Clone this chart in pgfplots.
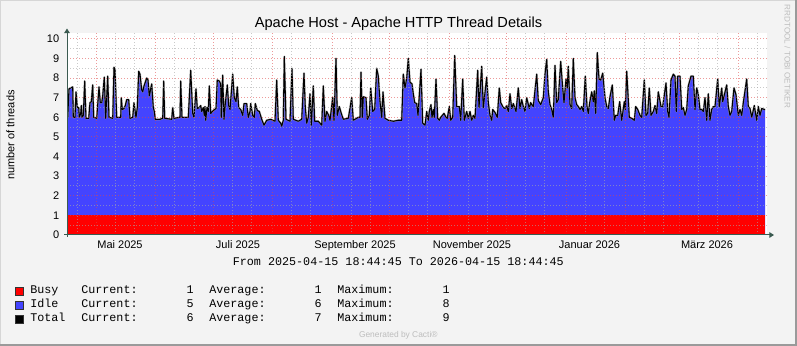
\documentclass[border=0pt]{standalone}
\usepackage{fontspec}
\setmainfont{Liberation Sans}
\newfontfamily\monofont{Liberation Mono}
\usepackage{pgfplots}
\pgfplotsset{compat=1.18}
\usepackage{pgfplotstable}
\usetikzlibrary{arrows.meta}
\definecolor{bg}{HTML}{F3F3F3}
\definecolor{shadea}{HTML}{D6D6D6}
\definecolor{shadeb}{HTML}{9A9A9A}
\definecolor{busy}{HTML}{FF0000}
\definecolor{idle}{HTML}{4444FF}
\definecolor{axiscol}{HTML}{3A5A50}
\definecolor{mgrid}{HTML}{E04848}
\definecolor{mingrid}{HTML}{A8A8A8}
\definecolor{faint}{HTML}{BDBDBD}
\pgfplotstableread{
x y
67 7.1
67.7 6.0
69 7.45
70.7 7.5
72.7 7.55
73.3 6.0
75 6.0
76 7.3
77.3 6.5
78.7 6.5
79.3 6.0
80.7 6.2
81.3 6.6
82 6.0
83.3 6.1
84.7 7.85
86 5.95
88.7 5.95
90 6.75
91.3 6.8
92.7 7.65
93.7 6.0
96.7 5.95
99 7.55
100.3 6.75
101.7 6.75
102.7 7.1
104.3 8.05
105.7 5.95
107.7 8.1
109 6.0
112.7 5.95
114 8.55
115 8.45
116.7 6.0
120.7 6.0
121.3 7.0
122.3 6.4
124 6.45
125.3 6.6
126.7 6.9
128.7 6.9
130 5.95
132.7 6.0
134 6.75
136 6.0
137.3 6.5
138.7 8.35
140 8.2
141.7 7.4
142.7 7.3
144 7.6
146.7 8.0
148 7.9
149.3 7.1
151.7 7.7
153.3 6.5
154.3 6.3
155.3 5.9
160 5.9
162.7 5.95
163.7 7.85
164.7 5.95
171.7 5.9
172.7 6.5
174 5.95
180 6.0
180.7 7.85
182 6.0
188.3 6.0
190.7 8.4
192.7 6.2
194 6.0
196 7.45
197.3 6.45
199.3 6.5
200.7 6.6
201.7 6.3
203.3 6.5
204.3 6.1
205 6.55
205.7 5.85
207 6.5
208.3 6.3
209.3 7.6
210.7 6.2
213.3 6.35
216 6.45
217.3 7.9
219.3 7.85
220.7 7.7
221.3 6.0
222.7 8.15
224 5.9
225.3 6.7
227.3 7.65
228.7 6.6
230 6.4
232.7 8.2
234.3 7.0
236 6.8
237.3 7.55
238.7 6.5
240.7 6.4
242.7 6.1
244 6.7
246.7 6.7
248.3 6.0
250 6.3
250.7 6.7
252.7 6.1
254.3 6.0
255.3 6.7
257.3 6.35
259.3 6.3
261.7 5.9
264 5.6
266.7 5.85
270.7 5.9
275 5.8
276.7 7.9
278.3 5.85
280.7 5.7
281.7 5.55
283.3 5.85
284.3 9.1
286 5.9
290 5.8
292 8.5
293.3 5.9
298.3 5.8
301.7 5.9
304 8.25
305.3 6.5
306.7 5.7
308.3 6.0
310 7.2
311.3 5.6
313.3 7.6
314.7 5.8
318.3 5.8
321.7 5.6
323.3 7.6
325 5.8
326.7 6.3
328.7 6.1
330 5.85
332.7 7.0
334 5.85
336 9.0
337.3 6.1
339.3 6.55
341.3 6.2
343.3 5.9
348.3 5.95
351.7 7.0
353.3 5.85
358.3 6.0
360 6.0
361 8.3
362.3 6.0
363.3 7.05
366 7.0
367.3 5.9
369.3 6.1
370.7 7.5
372.7 6.3
374.7 6.4
376.7 8.5
378.3 8.1
380 6.8
381.7 6.0
383 7.3
385 5.95
388.3 5.85
393.3 5.8
398.3 5.85
401.7 5.85
403.3 8.2
405 7.5
406.7 8.0
408.3 9.0
410 7.8
412 7.7
413.3 7.2
414.7 6.75
416.7 6.7
418 6.1
421 8.45
422.7 5.7
425 5.6
426.7 6.3
428.3 5.85
429.3 6.3
431 6.65
432 6.0
433.3 6.4
434.3 6.0
436 7.95
437.7 5.95
439.3 5.85
440.7 6.0
442.3 6.1
444 6.2
446 6.0
447.3 5.95
449.3 6.55
450.7 5.85
452.7 6.0
454.7 9.15
456.7 6.55
459.3 6.55
460.7 5.85
462.7 7.95
464.3 5.85
466.7 6.3
468.3 5.95
470 6.3
471.7 5.85
473.3 6.1
475 5.95
477.7 8.4
479 6.5
481.7 8.6
483.3 6.5
486.7 8.05
488.3 6.75
490 6.1
491.7 5.85
492.7 6.4
495 6.25
497.3 6.0
499.3 7.5
500.7 6.75
503.3 6.5
505 6.45
506.7 6.6
508.3 6.3
510 7.2
511.7 6.45
513.3 6.7
516 6.3
518.3 7.5
520 6.45
521.7 6.9
523.3 6.55
525 6.3
526.7 7.0
529.3 6.45
530.7 6.75
531.7 6.65
533.3 6.55
536.7 8.2
538.3 6.85
540.7 6.65
543.3 7.0
545 8.2
546.7 8.95
548.3 7.3
550 6.65
551.7 6.4
553.3 6.0
555 8.65
556.7 6.75
558.3 6.9
560.7 8.85
562.7 7.5
564 6.75
566 7.95
567.3 7.5
568.3 8.6
570 6.65
571.7 6.45
573.3 9.0
575 7.0
576.7 6.65
578.3 6.55
580 6.4
581.7 6.55
583.3 6.3
585.3 8.1
587 6.55
588.3 6.2
589.7 6.75
591.7 7.3
593.3 6.8
594.3 7.35
595.7 6.2
597.3 9.3
599 7.95
600.7 7.9
602.7 8.25
605 7.0
606.7 6.55
608.3 6.45
610 7.05
612.3 7.65
614.3 5.85
615.7 6.1
617.7 6.1
619.7 6.8
621.7 5.85
624.3 6.8
625.3 6.4
626.7 8.35
629.3 6.0
631.7 5.95
634.3 5.85
635.7 6.55
637.7 6.4
640 6.1
641.7 6.0
644.3 7.9
646 6.1
647.7 6.2
649.3 7.5
651 6.1
653.3 6.3
655 6.6
656.7 6.2
658.3 7.3
661 6.55
662.7 6.55
666 7.75
667.7 6.3
669 6.0
671 7.9
673.3 8.2
675 8.1
676.3 6.3
677.7 8.1
680 8.1
681.7 6.4
683.3 6.5
685 6.1
686.7 6.4
688.3 7.6
691 8.1
693.3 8.1
695 6.4
696.7 7.5
698.3 7.15
700 6.4
701.7 6.4
703.3 6.3
705 7.0
706.7 5.85
708.3 7.2
710 5.85
711.7 6.4
713.3 6.55
715 6.55
717.7 7.95
719.3 6.55
721.7 7.5
722.7 6.8
726.7 7.65
728.3 6.55
730 6.1
731.7 6.3
734 7.5
736 7.15
738.3 6.1
740 6.4
741.7 6.1
743.3 6.75
746.7 7.95
748.3 6.55
750 6.45
751.7 6.0
754.3 6.6
756.7 5.85
758.3 6.55
760 6.1
761.7 6.45
764.3 6.4
765 6.4
}\totaldata
\newcommand{\tickfont}{\fontsize{8.25}{10}\selectfont}
\newcommand{\legfont}{\monofont\fontsize{8.8}{10}\selectfont}
\begin{document}
\begin{tikzpicture}
% background (pixel coordinates, origin top-left)
\begin{scope}[x=0.75pt,y=-0.75pt,shift={(0pt,259.5pt)}]
\fill[bg] (0,0) rectangle (797,346);
\fill[shadea] (0,0) rectangle (797,1);
\fill[shadea] (0,0) rectangle (1,346);
\fill[shadeb] (795,0) rectangle (797,346);
\fill[shadeb] (0,344) rectangle (797,346);
\end{scope}
\begin{axis}[
  at={(50.25pt,83.25pt)}, anchor=south west,
  scale only axis, width=525pt, height=151.5pt,
  xmin=67, xmax=767, ymin=0, ymax=10.3,
  axis background/.style={fill=white},
  axis line style={draw=none},
  axis on top,
  xtick={96.19,155.64,213.18,272.63,332.08,389.61,449.06,506.60,566.05,625.50,679.20,738.65},
  xticklabels={},
  minor xtick={77.01,115.37,134.55,174.82,194.00,232.36,251.54,291.81,310.99,351.26,370.44,408.79,427.97,468.24,487.42,525.78,544.96,585.23,604.41,644.68,663.86,698.38,717.56,757.83},
  extra x ticks={120,238,355,472,589.5,707},
  extra x tick labels={Mai 2025,Juli 2025,September 2025,November 2025,Januar 2026,März 2026},
  extra x tick style={grid=none, major tick length=0pt},
  ytick={0,1,2,3,4,5,6,7,8,9,10},
  minor ytick={0.5,1.5,2.5,3.5,4.5,5.5,6.5,7.5,8.5,9.5},
  grid=both,
  major grid style={draw=mgrid, opacity=0.55, line width=0.75pt, dash pattern=on 0.75pt off 1.5pt},
  minor grid style={draw=mingrid, opacity=0.6, line width=0.75pt, dash pattern=on 0.75pt off 1.5pt},
  major tick length=0pt, minor tick length=0pt,
  /pgf/number format/assume math mode=true,
  yticklabel style={font=\tickfont, anchor=east, inner sep=0pt, xshift=-5.7pt},
  xticklabel style={font=\tickfont, anchor=north, inner sep=0pt, yshift=-4.2pt},
]
\addplot[draw=none, fill=idle] table[x=x,y=y]{\totaldata} \closedcycle;
\addplot[draw=none, fill=busy] coordinates {(67,1) (765,1)} \closedcycle;
\addplot[black!40, line width=1.5pt, line join=round, opacity=0.7] table[x=x,y=y]{\totaldata};
\addplot[black, line width=0.8pt, line join=round] table[x=x,y=y]{\totaldata};
\end{axis}
\begin{scope}[x=0.75pt,y=-0.75pt,shift={(0pt,259.5pt)}]
% axes with arrows
\draw[axiscol, line width=0.75pt, -{Triangle[length=3.5pt,width=4.2pt]}] (67,237) -- (67,28.5);
\draw[axiscol, line width=0.75pt, -{Triangle[length=3.5pt,width=4.2pt]}] (64,235) -- (774,235);
% title
\node[anchor=base, inner sep=0pt, font=\fontsize{10.95}{13}\selectfont] at (398.5,28) {Apache Host - Apache HTTP Thread Details};
% y label
\node[rotate=90, anchor=center, inner sep=0pt, font=\tickfont] at (10.5,135) {number of threads};
% watermark
\node[rotate=-90, anchor=center, inner sep=0pt, font=\fontsize{6.1}{7}\selectfont, text=faint] at (787.5,56.5) {RRDTOOL / TOBI OETIKER};
% period
\node[anchor=base, inner sep=0pt, font=\legfont] at (398.3,266) {From 2025-04-15 18:44:45 To 2026-04-15 18:44:45};
% legend
\filldraw[fill=busy, draw=black!80, line width=0.75pt] (15.5,287.5) rectangle (23.5,295.5);
\filldraw[fill=idle, draw=black!80, line width=0.75pt] (15.5,301.5) rectangle (23.5,309.5);
\filldraw[fill=black, draw=black!80, line width=0.75pt] (15.5,315.5) rectangle (23.5,323.5);
\foreach \yy/\nm/\c/\a/\m in {294/Busy/1/1/1, 308/Idle/5/6/8, 322/Total/6/7/9} {
  \node[anchor=base west, inner sep=0pt, font=\legfont] at (30,\yy) {\nm};
  \node[anchor=base west, inner sep=0pt, font=\legfont] at (81,\yy) {Current:};
  \node[anchor=base east, inner sep=0pt, font=\legfont] at (194,\yy) {\c};
  \node[anchor=base west, inner sep=0pt, font=\legfont] at (209,\yy) {Average:};
  \node[anchor=base east, inner sep=0pt, font=\legfont] at (322,\yy) {\a};
  \node[anchor=base west, inner sep=0pt, font=\legfont] at (337,\yy) {Maximum:};
  \node[anchor=base east, inner sep=0pt, font=\legfont] at (450,\yy) {\m};
}
\node[anchor=base, inner sep=0pt, font=\fontsize{6.3}{7}\selectfont, text=faint] at (398.3,338) {Generated by Cacti®};
\end{scope}
\end{tikzpicture}
\end{document}
